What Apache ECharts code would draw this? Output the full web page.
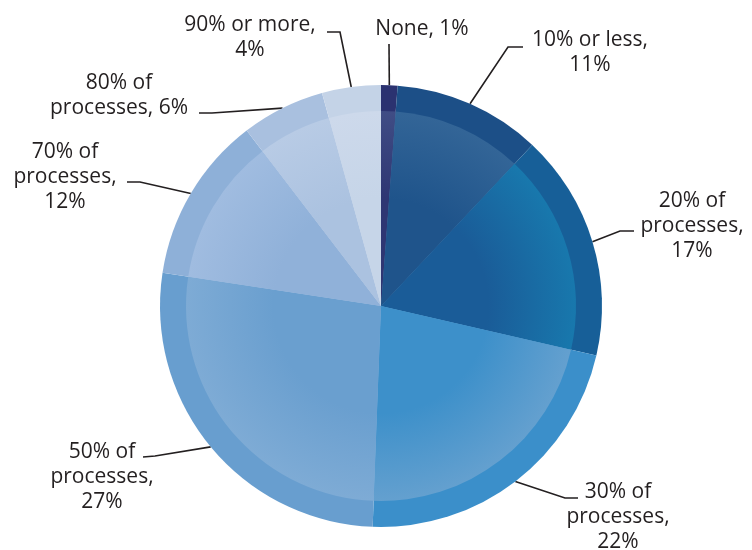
<!DOCTYPE html>
<html>
<head>
<meta charset="utf-8">
<script src="https://cdn.jsdelivr.net/npm/echarts@6/dist/echarts.min.js"></script>
<style>
html,body{margin:0;padding:0;background:#fff;}
#chart{width:752px;height:550px;}
</style>
</head>
<body>
<div id="chart"></div>
<script>
// ---- data ----
const categories = ['None', '10% or less', '20% of processes', '30% of processes',
  '50% of processes', '70% of processes', '80% of processes', '90% or more'];
// shares (labels show rounded percentages)
const shares = [1.2, 10.8, 16.6, 22.0, 26.8, 12.2, 6.1, 4.3];
// label text as shown (line breaks)
const labelTexts = ['None, 1%', '10% or less,\n11%', '20% of\nprocesses,\n17%', '30% of\nprocesses,\n22%',
  '50% of\nprocesses,\n27%', '70% of\nprocesses,\n12%', '80% of\nprocesses, 6%', '90% or more,\n4%'];

// ---- styles ----
const outerColors = ['#2b3270', '#1c4f87', '#175f98', '#3b8fca', '#689ecf', '#8eb0d8', '#a9c0df', '#c4d3e7'];
const innerCenter = ['#2e3673', '#1f548b', '#1a5c98', '#3d90ca', '#6a9fcf', '#90b1d9', '#abc2e0', '#c6d5e8'];
const innerEdge   = ['#404d85', '#336597', '#1878ad', '#64a0cf', '#7eabd5', '#a0bce0', '#b8cbe5', '#cdd9eb'];

// label placement (text block centre, bend point, end point of leader line)
const labelSpots = [
  {x: 422, y: 29,  bend: [389, 44],  end: [389, 44]},
  {x: 590, y: 53,  bend: [508, 47],  end: [523, 47]},
  {x: 692, y: 226, bend: [620, 231], end: [634, 231]},
  {x: 618, y: 517, bend: [565, 498], end: [578, 498]},
  {x: 102, y: 477, bend: [155, 456], end: [143, 457]},
  {x: 65,  y: 177, bend: [140, 182], end: [127, 182]},
  {x: 119, y: 96,  bend: [212, 113], end: [199, 113]},
  {x: 250, y: 38,  bend: [340, 32],  end: [327, 32]}
];

const CX = 381, CY = 306, R_OUT = 221, R_IN = 195;

const outerData = categories.map((c, i) => ({
  name: c, value: shares[i],
  itemStyle: {color: outerColors[i]}
}));
const innerData = categories.map((c, i) => ({
  name: c, value: shares[i],
  itemStyle: {color: {
    type: 'radial', x: CX, y: CY, r: R_IN, global: true,
    colorStops: [{offset: 0, color: innerCenter[i]}, {offset: 0.55, color: innerCenter[i]}, {offset: 1, color: innerEdge[i]}]
  }}
}));

const chart = echarts.init(document.getElementById('chart'), null, {renderer: 'canvas'});
chart.setOption({
  animation: false,
  backgroundColor: '#ffffff',
  series: [
    {
      type: 'pie',
      center: [CX, CY],
      radius: [0, R_OUT],
      startAngle: 90,
      clockwise: true,
      avoidLabelOverlap: false,
      itemStyle: {borderWidth: 0},
      data: outerData,
      label: {
        show: true,
        position: 'outside',
        formatter: p => labelTexts[p.dataIndex],
        fontFamily: 'Open Sans',
        fontSize: 21,
        lineHeight: 25,
        color: '#231f20',
        align: 'center'
      },
      labelLine: {
        show: true,
        length: 10,
        length2: 10,
        lineStyle: {color: '#231f20', width: 1.6}
      },
      labelLayout: function (params) {
        const s = labelSpots[params.dataIndex];
        const p0 = params.labelLinePoints ? params.labelLinePoints[0] : s.bend;
        return {
          x: s.x, y: s.y, align: 'center', verticalAlign: 'middle',
          labelLinePoints: [p0, s.bend, s.end]
        };
      },
      emphasis: {disabled: true}
    },
    {
      type: 'pie',
      center: [CX, CY],
      radius: [0, R_IN],
      startAngle: 90,
      clockwise: true,
      silent: true,
      itemStyle: {borderWidth: 0},
      label: {show: false},
      labelLine: {show: false},
      data: innerData,
      emphasis: {disabled: true}
    }
  ]
});
</script>
</body>
</html>
